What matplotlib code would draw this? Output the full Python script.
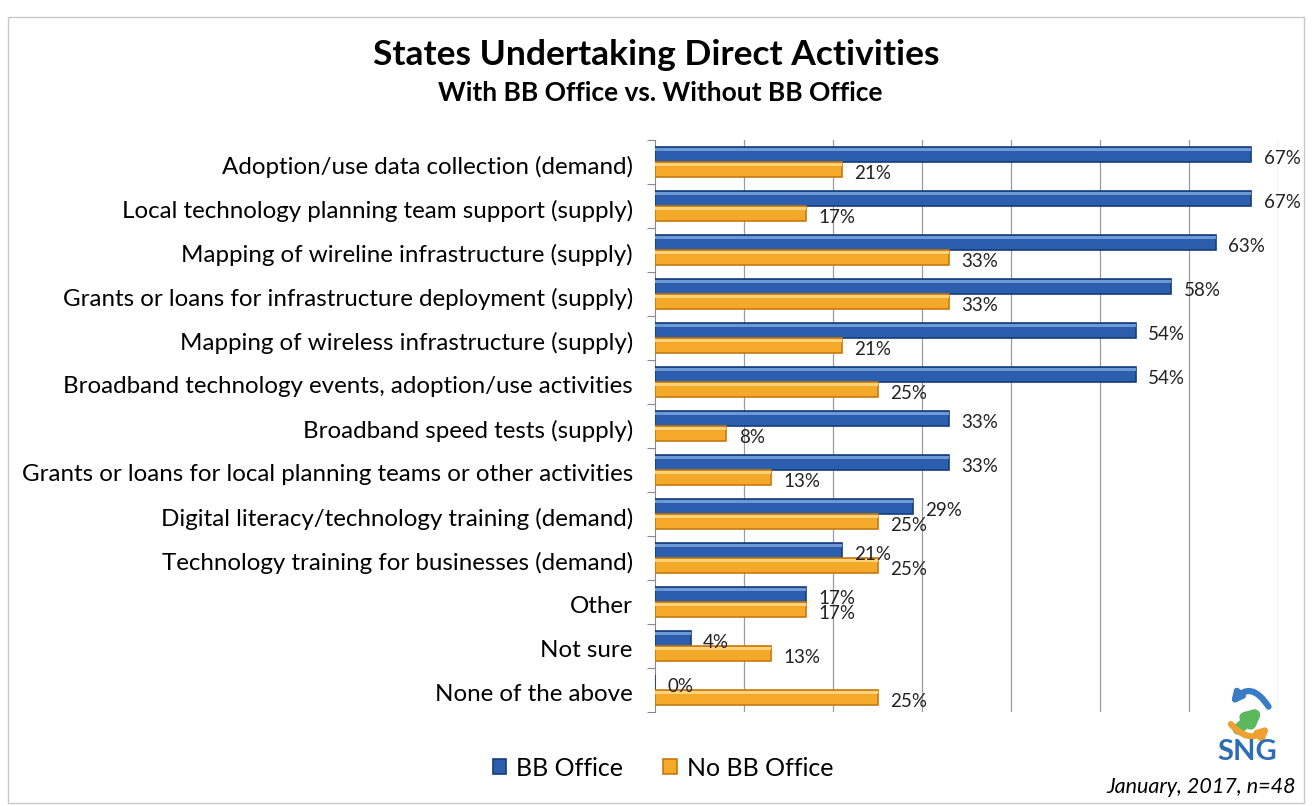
import matplotlib.pyplot as plt
import numpy as np
from matplotlib.patches import Rectangle, FancyArrowPatch

categories = [
    "Adoption/use data collection (demand)",
    "Local technology planning team support (supply)",
    "Mapping of wireline infrastructure (supply)",
    "Grants or loans for infrastructure deployment (supply)",
    "Mapping of wireless infrastructure (supply)",
    "Broadband technology events, adoption/use activities",
    "Broadband speed tests (supply)",
    "Grants or loans for local planning teams or other activities",
    "Digital literacy/technology training (demand)",
    "Technology training for businesses (demand)",
    "Other",
    "Not sure",
    "None of the above",
]
bb_office = [67, 67, 63, 58, 54, 54, 33, 33, 29, 21, 17, 4, 0]
no_bb_office = [21, 17, 33, 33, 21, 25, 8, 13, 25, 25, 17, 13, 25]

plt.rcParams["font.family"] = ["Lato", "DejaVu Sans"]

BLUE = "#2b5fae"
BLUE_EDGE = "#173d7a"
ORANGE = "#f6a829"
ORANGE_EDGE = "#c57a10"

W, H = 1312, 806


def px(x, y):
    # pixel position (from top-left) to figure fraction
    return (x / W, 1 - y / H)


fig = plt.figure(figsize=(13.12, 8.06), dpi=100)
ax = fig.add_axes([655 / W, 1 - 712 / H, (1278 - 655) / W, (712 - 140) / H])

y = np.arange(len(categories))
h = 0.34
ax.barh(y - h / 2, bb_office, height=h, color=BLUE, edgecolor=BLUE_EDGE,
        linewidth=1.2, label="BB Office", zorder=3)
ax.barh(y + h / 2, no_bb_office, height=h, color=ORANGE, edgecolor=ORANGE_EDGE,
        linewidth=1.2, label="No BB Office", zorder=3)

# light highlight strip on top of each bar for the bevel look
ax.barh(y - h * 0.82, bb_office, height=h * 0.22, color="#6f98d6", linewidth=0, zorder=4)
ax.barh(y + h * 0.18, no_bb_office, height=h * 0.22, color="#fcd27a", linewidth=0, zorder=4)

for i, (b, o) in enumerate(zip(bb_office, no_bb_office)):
    ax.text(b + 1.4, i - h / 2 + 0.08, f"{b}%", va="center", ha="left",
            fontsize=13.5, color="#222222", zorder=5)
    ax.text(o + 1.4, i + h / 2 + 0.09, f"{o}%", va="center", ha="left",
            fontsize=13.5, color="#222222", zorder=5)

ax.set_xlim(0, 70)
ax.set_ylim(len(categories) - 0.5, -0.5)
ax.set_xticks(np.arange(10, 71, 10))
ax.tick_params(axis="x", length=0, labelbottom=False)
ax.grid(axis="x", color="#9a9a9a", linewidth=0.9, zorder=0)

ax.set_yticks(np.arange(-0.5, len(categories), 1.0))
ax.set_yticklabels([])
ax.set_yticks(y + 0.06, minor=True)
ax.set_yticklabels(categories, minor=True, fontsize=17.4)
ax.tick_params(axis="y", which="minor", length=0, pad=16)
ax.tick_params(axis="y", which="major", length=6, color="#888888", direction="out")

for s in ["top", "right"]:
    ax.spines[s].set_visible(False)
ax.spines["left"].set_color("#888888")
ax.spines["bottom"].set_visible(False)

fig.text(0.5, 1 - 55 / H, "States Undertaking Direct Activities", ha="center",
         va="center", fontsize=25.5, fontweight="bold")
fig.text(0.503, 1 - 93 / H, "With BB Office vs. Without BB Office", ha="center",
         va="center", fontsize=19, fontweight="bold")

fig.legend(loc="center", bbox_to_anchor=(663 / W, 1 - 768 / H), ncol=2,
           frameon=False, fontsize=18, handlelength=0.55, handleheight=0.55,
           columnspacing=1.6, handletextpad=0.4)

# SNG logo
fig.text(*px(1247, 752), "SNG", ha="center", va="center", fontsize=21,
         fontweight="bold", color="#2c6db5")
fig.patches.append(FancyArrowPatch(px(1270, 709), px(1229, 707),
                                   connectionstyle="arc3,rad=0.75", arrowstyle="-|>",
                                   mutation_scale=14, lw=4.5, color="#3a7cc4",
                                   transform=fig.transFigure))
fig.patches.append(FancyArrowPatch(px(1236, 731), px(1266, 705),
                                   arrowstyle="-|>", mutation_scale=16, lw=8,
                                   color="#5cb85c", transform=fig.transFigure))
fig.patches.append(FancyArrowPatch(px(1229, 722), px(1272, 724),
                                   connectionstyle="arc3,rad=0.55", arrowstyle="-|>",
                                   mutation_scale=14, lw=4.5, color="#f0a030",
                                   transform=fig.transFigure))

fig.text(*px(1296, 787), "January, 2017, n=48", ha="right", va="center",
         fontsize=15.5, style="italic")

fig.patches.append(Rectangle((0.006, 0.004), 0.988, 0.975, fill=False,
                             edgecolor="#c8c8c8", lw=1.0, transform=fig.transFigure))

fig.savefig("out.png", dpi=100)
